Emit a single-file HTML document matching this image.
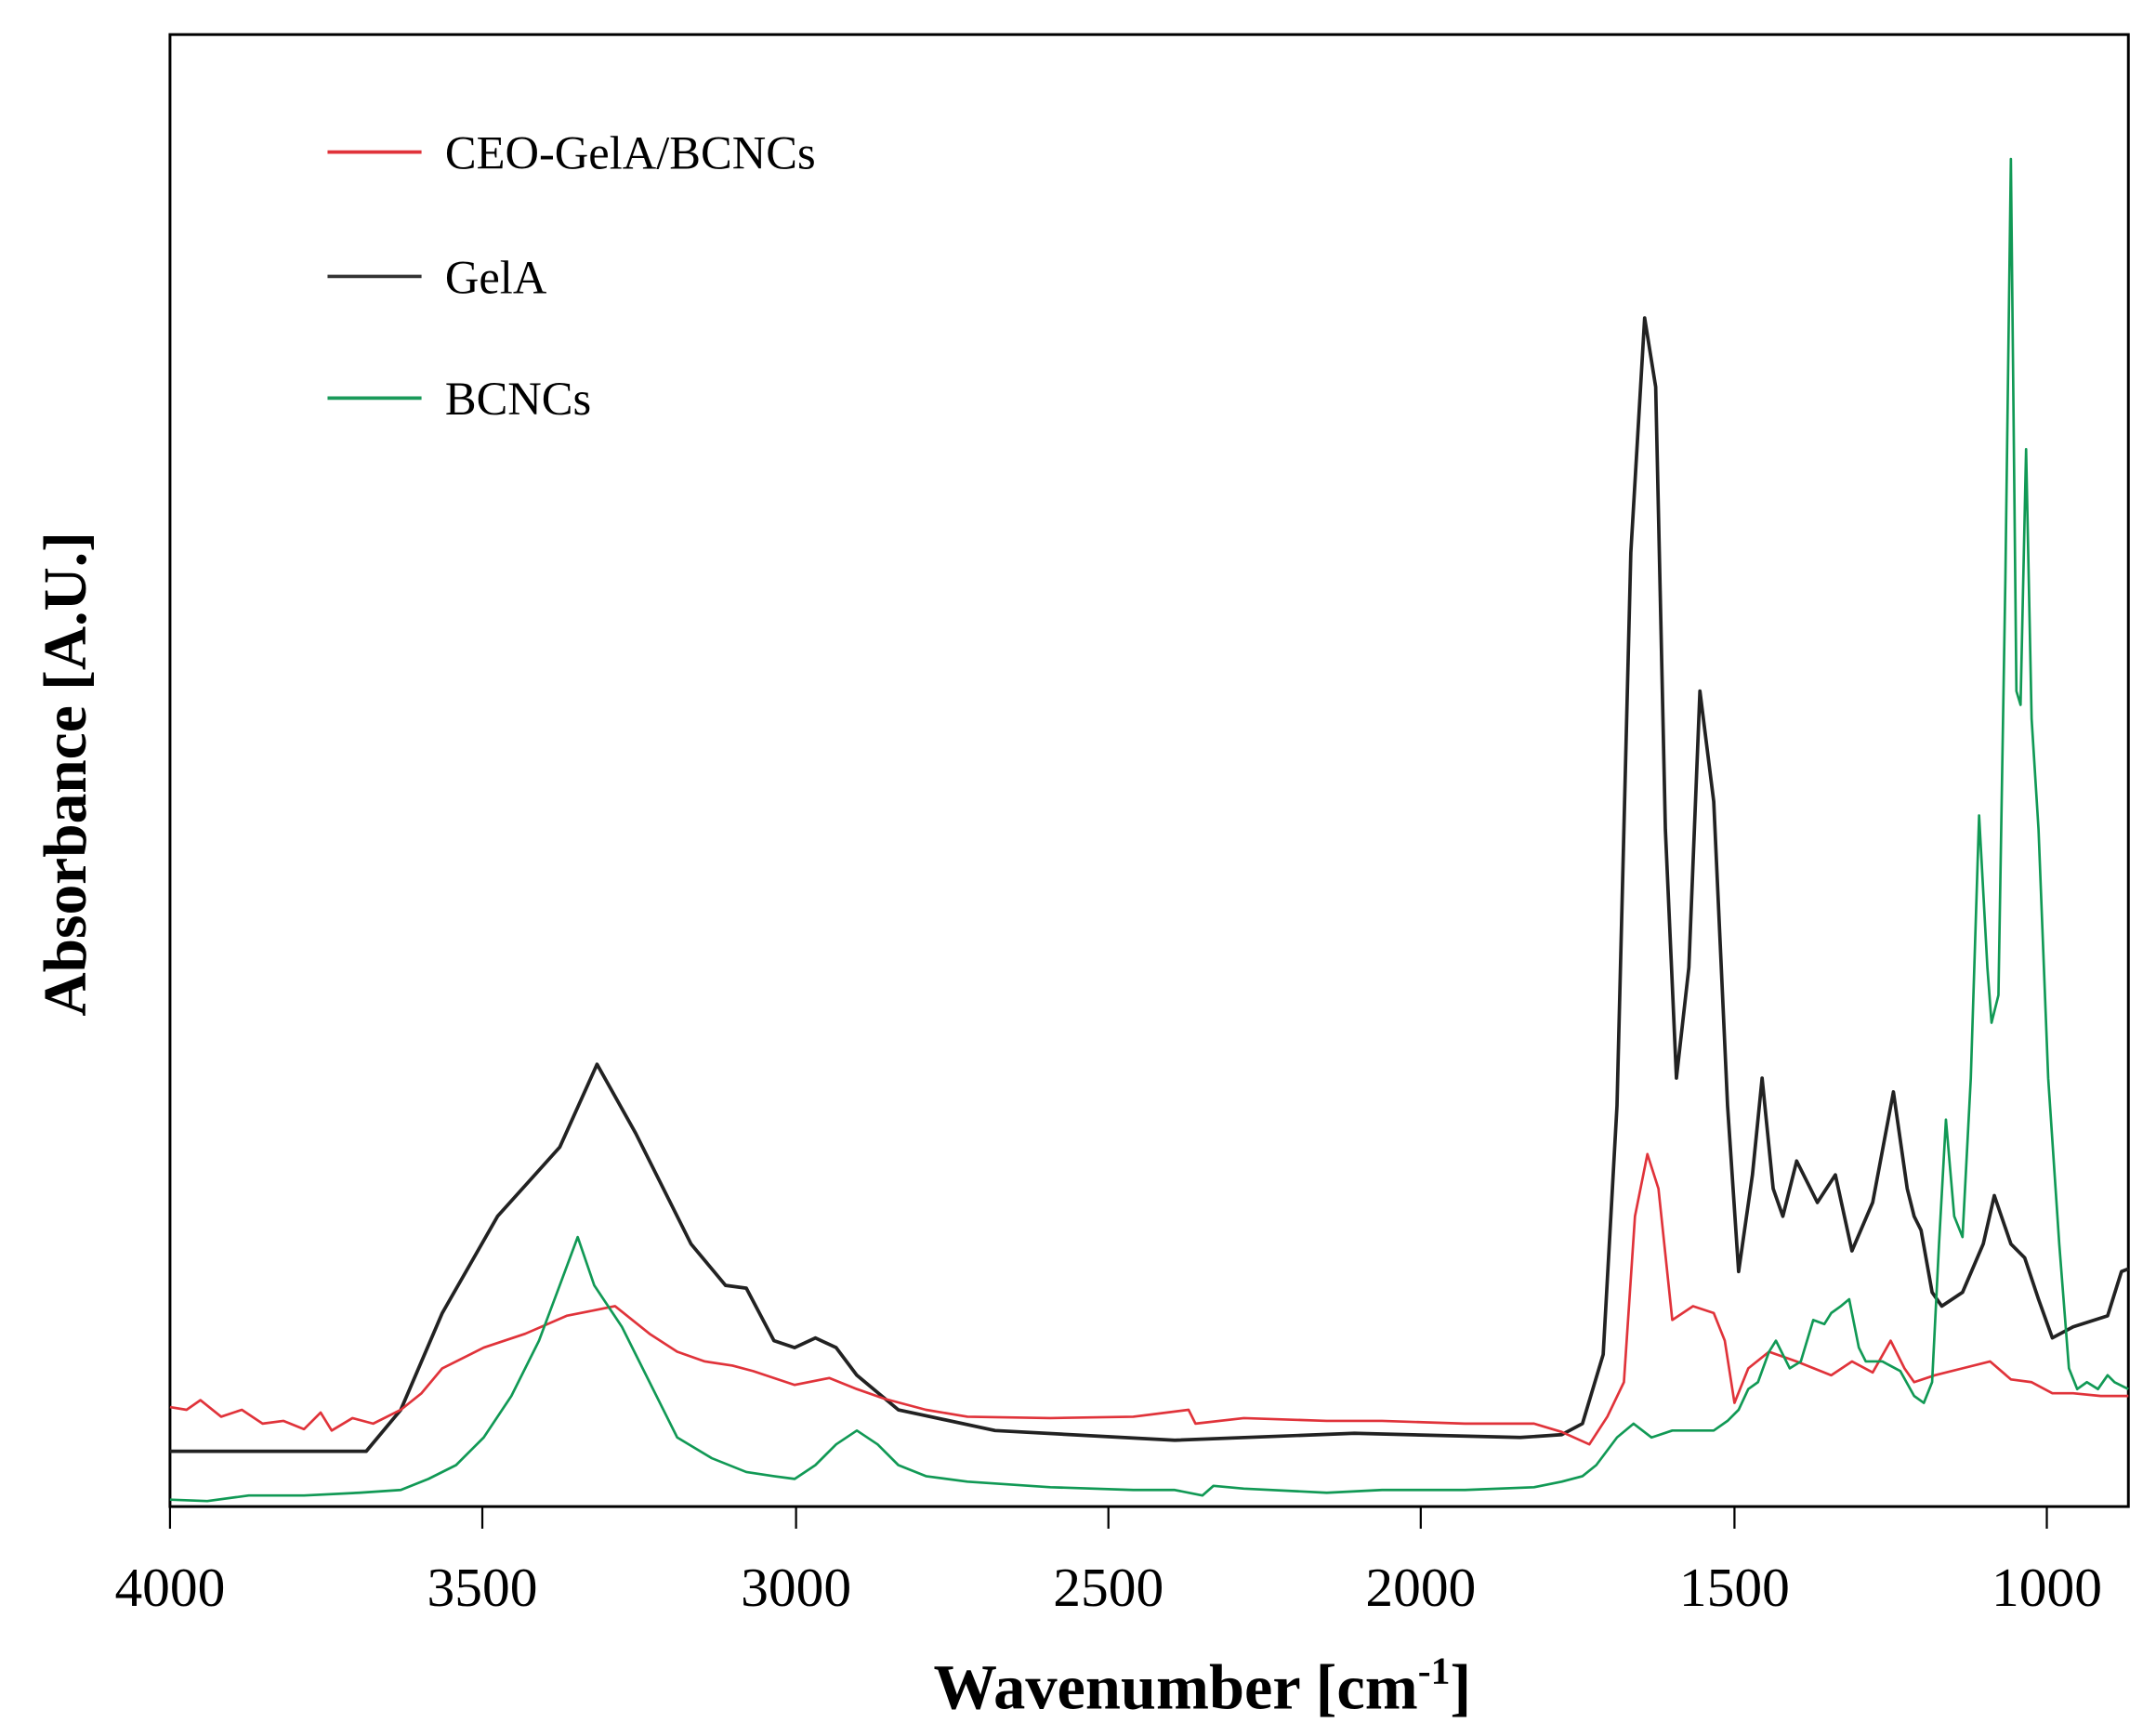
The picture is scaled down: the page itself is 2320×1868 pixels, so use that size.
<!DOCTYPE html>
<html><head><meta charset="utf-8"><style>html,body{margin:0;padding:0;background:#fff}svg{display:block}</style></head>
<body>
<svg width="2320" height="1868" viewBox="0 0 1560 1256" preserveAspectRatio="none" xmlns="http://www.w3.org/2000/svg">
<rect width="1560" height="1256" fill="#fff"/>
<rect x="123" y="25" width="1417" height="1065" fill="none" stroke="#000" stroke-width="2"/>
<g stroke="#000" stroke-width="1.5">
<line x1="123" y1="1090" x2="123" y2="1106"/><line x1="349" y1="1090" x2="349" y2="1106"/><line x1="576" y1="1090" x2="576" y2="1106"/><line x1="802" y1="1090" x2="802" y2="1106"/><line x1="1028" y1="1090" x2="1028" y2="1106"/><line x1="1255" y1="1090" x2="1255" y2="1106"/><line x1="1481" y1="1090" x2="1481" y2="1106"/>
</g>
<g font-family="Liberation Serif, serif" font-size="40" text-anchor="middle" fill="#000">
<text x="123" y="1162">4000</text><text x="349" y="1162">3500</text><text x="576" y="1162">3000</text><text x="802" y="1162">2500</text><text x="1028" y="1162">2000</text><text x="1255" y="1162">1500</text><text x="1481" y="1162">1000</text>
</g>
<text x="870" y="1236" font-family="Liberation Serif, serif" font-size="46" font-weight="bold" text-anchor="middle">Wavenumber [cm<tspan font-size="28" dy="-18">-1</tspan><tspan dy="18">]</tspan></text>
<text transform="translate(62,560) rotate(-90)" font-family="Liberation Serif, serif" font-size="44" font-weight="bold" text-anchor="middle">Absorbance [A.U.]</text>
<g font-family="Liberation Serif, serif" font-size="34" fill="#000">
<line x1="237" y1="110" x2="305" y2="110" stroke="#e0333a" stroke-width="2.5"/><text x="322" y="122">CEO-GelA/BCNCs</text>
<line x1="237" y1="200" x2="305" y2="200" stroke="#333" stroke-width="2.5"/><text x="322" y="212">GelA</text>
<line x1="237" y1="288" x2="305" y2="288" stroke="#1a9a5a" stroke-width="2.5"/><text x="322" y="300">BCNCs</text>
</g>
<polyline fill="none" stroke="#222" stroke-width="2.5" stroke-linejoin="round" points="123,1050 265,1050 290,1020 320,950 360,880 405,830 432,770 460,820 500,900 525,930 540,932 560,970 575,975 590,968 605,975 620,995 650,1020 720,1035 850,1042 980,1037 1100,1040 1130,1038 1145,1030 1160,980 1170,800 1180,400 1190,230 1198,280 1205,600 1213,780 1222,700 1230,500 1240,580 1250,800 1258,920 1268,850 1275,780 1283,860 1290,880 1300,840 1315,870 1328,850 1340,905 1355,870 1370,790 1380,860 1385,880 1390,890 1398,935 1405,945 1420,935 1435,900 1443,865 1455,900 1465,910 1475,940 1485,968 1500,960 1525,952 1535,920 1540,918"/>
<polyline fill="none" stroke="#e0333a" stroke-width="1.8" stroke-linejoin="round" points="123,1018 135,1020 145,1013 160,1025 175,1020 190,1030 205,1028 220,1034 232,1022 240,1035 255,1026 270,1030 290,1020 305,1008 320,990 350,975 380,965 410,952 430,948 445,945 470,965 490,978 510,985 530,988 545,992 575,1002 600,997 620,1005 640,1012 670,1020 700,1025 760,1026 820,1025 860,1020 865,1030 900,1026 960,1028 1000,1028 1060,1030 1110,1030 1130,1036 1150,1045 1163,1025 1175,1000 1183,880 1192,835 1200,860 1210,955 1225,945 1240,950 1248,970 1255,1015 1265,990 1280,978 1300,985 1325,995 1340,985 1355,993 1368,970 1378,990 1385,1000 1400,995 1420,990 1440,985 1455,998 1470,1000 1485,1008 1500,1008 1520,1010 1540,1010"/>
<polyline fill="none" stroke="#119955" stroke-width="1.8" stroke-linejoin="round" points="123,1085 150,1086 180,1082 220,1082 260,1080 290,1078 310,1070 330,1060 350,1040 370,1010 390,970 405,930 418,895 430,930 450,960 470,1000 490,1040 515,1055 540,1065 560,1068 575,1070 590,1060 605,1045 620,1035 635,1045 650,1060 670,1068 700,1072 760,1076 820,1078 850,1078 870,1082 878,1075 900,1077 960,1080 1000,1078 1060,1078 1110,1076 1130,1072 1145,1068 1155,1060 1170,1040 1182,1030 1195,1040 1210,1035 1240,1035 1250,1028 1258,1020 1265,1005 1272,1000 1280,978 1285,970 1295,990 1303,985 1312,955 1320,958 1325,950 1332,945 1338,940 1345,975 1350,985 1362,985 1375,992 1385,1010 1392,1015 1398,1000 1403,900 1408,810 1414,880 1420,895 1426,780 1432,590 1438,700 1441,740 1446,720 1451,420 1455,115 1459,500 1462,510 1466,325 1470,520 1475,600 1482,780 1490,900 1497,990 1503,1005 1510,1000 1518,1005 1525,995 1530,1000 1540,1005"/>
</svg>
</body></html>
